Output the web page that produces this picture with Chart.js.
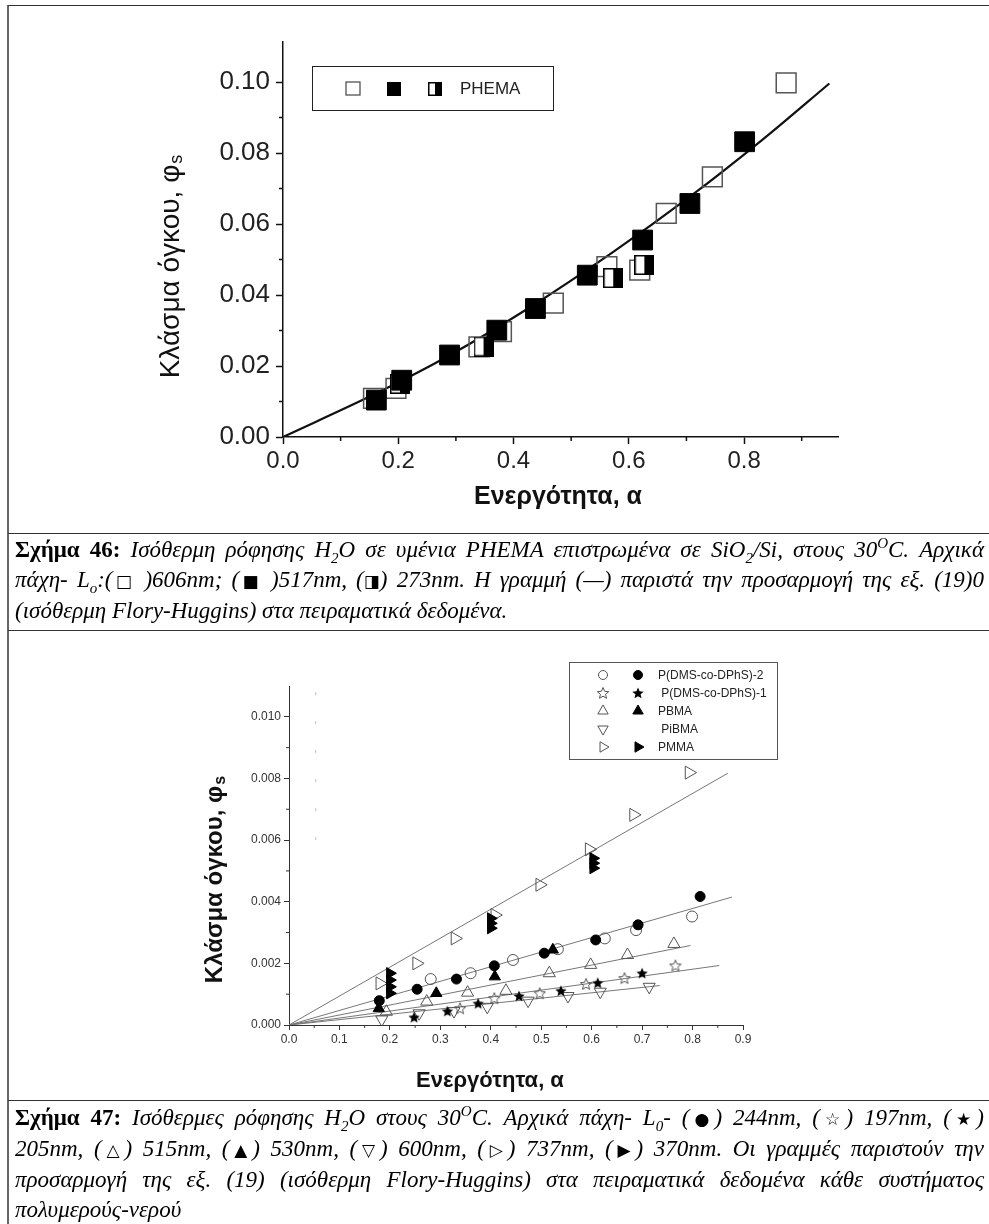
<!DOCTYPE html>
<html>
<head>
<meta charset="utf-8">
<script src="https://cdn.jsdelivr.net/npm/chart.js@4.4.1/dist/chart.umd.min.js"></script>
<style>
  body { margin: 0; background: #fff; width: 989px; height: 1224px; position: relative; overflow: hidden; }
  canvas { position: absolute; left: 0; }
  #c1 { top: 0; }
  #c2 { top: 635px; }
  .hl { position: absolute; left: 8px; right: 0; height: 0; border-top: 1px solid #333; }
  .vl { position: absolute; left: 7px; top: 5px; bottom: 0; width: 0; border-left: 2px solid #666; }
  .cap { position: absolute; left: 15px; width: 969px; font-family: 'Liberation Serif', 'Times New Roman', serif;
         font-size: 23px; line-height: 30px; font-style: italic; color: #000; }
  .cap .ln { display: block; white-space: nowrap; text-align: justify; text-align-last: justify; }
  .cap .last { text-align: left; text-align-last: left; }
  .cap b { font-style: normal; }
  .cap sub, .cap sup { font-size: 15px; line-height: 0; }
  .sym { font-style: normal; font-family: 'DejaVu Sans', sans-serif; font-size: 17px; }
</style>
</head>
<body>
<canvas id="c1" width="989" height="530"></canvas>
<canvas id="c2" width="989" height="460"></canvas>

<div class="vl"></div>
<div class="hl" style="top:5px"></div>
<div class="hl" style="top:533px"></div>
<div class="hl" style="top:630px"></div>
<div class="hl" style="top:1100px"></div>

<div class="cap" style="top:535px">
  <span class="ln"><b>Σχήμα 46:</b> Ισόθερμη ρόφησης H<sub>2</sub>O σε υμένια PHEMA επιστρωμένα σε SiO<sub>2</sub>/Si, στους 30<sup>O</sup>C. Αρχικά</span>
  <span class="ln">πάχη- L<sub>o</sub>:(<span class="sym">□</span> )606nm; (<span class="sym">■</span> )517nm, (<span class="sym">◨</span>) 273nm. Η γραμμή (—) παριστά την προσαρμογή της εξ. (19)0</span>
  <span class="ln last">(ισόθερμη Flory-Huggins) στα πειραματικά δεδομένα.</span>
</div>

<div class="cap" style="top:1103px">
  <span class="ln"><b>Σχήμα 47:</b> Ισόθερμες ρόφησης H<sub>2</sub>O στους 30<sup>O</sup>C. Αρχικά πάχη- L<sub>0</sub>- (<span class="sym">●</span>) 244nm, (<span class="sym">☆</span>) 197nm, (<span class="sym">★</span>)</span>
  <span class="ln">205nm, (<span class="sym">△</span>) 515nm, (<span class="sym">▲</span>) 530nm, (<span class="sym">▽</span>) 600nm, (<span class="sym">▷</span>) 737nm, (<span class="sym">▶</span>) 370nm. Οι γραμμές παριστούν την</span>
  <span class="ln">προσαρμογή της εξ. (19) (ισόθερμη Flory-Huggins) στα πειραματικά δεδομένα κάθε συστήματος</span>
  <span class="ln last">πολυμερούς-νερού</span>
</div>

<script>
// ---------- Σχήμα 46 : PHEMA ----------
const phemaOpenX = [0.157, 0.196, 0.340, 0.379, 0.469, 0.562, 0.619, 0.665, 0.745, 0.873];
const phemaOpenY = [0.0109, 0.0137, 0.0254, 0.0297, 0.0377, 0.0480, 0.0470, 0.0630, 0.0733, 0.0998];
const phemaFullX = [0.162, 0.206, 0.289, 0.371, 0.438, 0.528, 0.624, 0.706, 0.801];
const phemaFullY = [0.0104, 0.0160, 0.0231, 0.0301, 0.0362, 0.0456, 0.0555, 0.0658, 0.0832];
const phemaHalfX = [0.203, 0.348, 0.573, 0.627];
const phemaHalfY = [0.0150, 0.0255, 0.0448, 0.0485];
const phemaFitX = [0, 0.162, 0.29, 0.43, 0.57, 0.706, 0.83, 0.948];
const phemaFitY = [0, 0.0123, 0.0231, 0.0367, 0.0518, 0.0677, 0.0835, 0.0996];
const topXTicks = [0, 0.2, 0.4, 0.6, 0.8];
const topXMinor = [0.1, 0.3, 0.5, 0.7, 0.9];
const topYTicks = [0, 0.02, 0.04, 0.06, 0.08, 0.10];
const topYMinor = [0.01, 0.03, 0.05, 0.07, 0.09];

// ---------- Σχήμα 47 ----------
const dms2FullX = [0.179, 0.254, 0.332, 0.407, 0.506, 0.608, 0.692, 0.815];
const dms2FullY = [0.00079, 0.00116, 0.00149, 0.00192, 0.00233, 0.00276, 0.00325, 0.00417];
const dms2OpenX = [0.281, 0.360, 0.444, 0.533, 0.626, 0.688, 0.799];
const dms2OpenY = [0.00149, 0.00168, 0.00211, 0.00246, 0.00281, 0.00308, 0.00352];
const dms1OpenX = [0.339, 0.407, 0.497, 0.589, 0.665, 0.766];
const dms1OpenY = [0.00054, 0.00087, 0.00103, 0.00133, 0.00152, 0.00193];
const dms1FullX = [0.248, 0.314, 0.375, 0.456, 0.539, 0.612, 0.700];
const dms1FullY = [0.00025, 0.00045, 0.00070, 0.00094, 0.00111, 0.00137, 0.00168];
const pbmaOpenX = [0.193, 0.273, 0.354, 0.430, 0.516, 0.598, 0.671, 0.763];
const pbmaOpenY = [0.00043, 0.00076, 0.00105, 0.00111, 0.00168, 0.00195, 0.00227, 0.00263];
const pbmaFullX = [0.178, 0.292, 0.408, 0.523];
const pbmaFullY = [0.00054, 0.00103, 0.00157, 0.00244];
const pibmaOpenX = [0.184, 0.258, 0.327, 0.393, 0.474, 0.553, 0.617, 0.714];
const pibmaOpenY = [0.00018, 0.00038, 0.00045, 0.00059, 0.00079, 0.00094, 0.00108, 0.00124];
const pmmaOpenX = [0.180, 0.253, 0.329, 0.408, 0.497, 0.595, 0.683, 0.793];
const pmmaOpenY = [0.00135, 0.00200, 0.00281, 0.00357, 0.00455, 0.00570, 0.00682, 0.00819];
const pmmaFullX = [0.200, 0.200, 0.200, 0.200, 0.400, 0.400, 0.400, 0.603, 0.603, 0.603];
const pmmaFullY = [0.00168, 0.00146, 0.00124, 0.00103, 0.00346, 0.00330, 0.00314, 0.00541, 0.00525, 0.00509];
// fitted lines (end points)
const pmmaFitX = [0, 0.870];   const pmmaFitY = [0, 0.00817];
const dms2FitX = [0, 0.878];   const dms2FitY = [0, 0.00415];
const pbmaFitX = [0, 0.796];   const pbmaFitY = [0, 0.00258];
const dms1FitX = [0, 0.853];   const dms1FitY = [0, 0.00193];
const pibmaFitX = [0, 0.735];  const pibmaFitY = [0, 0.00128];
// faint dashed marks left in the scan
const scanMarkX = [0.053, 0.053];
const scanMarkY = [0.0108, 0.0060];
const botXTicks = [0, 0.1, 0.2, 0.3, 0.4, 0.5, 0.6, 0.7, 0.8, 0.9];
const botXMinor = [0.05, 0.15, 0.25, 0.35, 0.45, 0.55, 0.65, 0.75, 0.85];
const botYTicks = [0, 0.002, 0.004, 0.006, 0.008, 0.010];
const botYMinor = [0.001, 0.003, 0.005, 0.007, 0.009];

const legend47 = [
  { label: 'P(DMS-co-DPhS)-2', open: 'circle', full: 'circle' },
  { label: ' P(DMS-co-DPhS)-1', open: 'starO', full: 'starF' },
  { label: 'PBMA', open: 'triangle', full: 'triangle' },
  { label: ' PiBMA', open: 'down', full: null },
  { label: 'PMMA', open: 'right', full: 'right' }
];

const SANS = "'Liberation Sans', Arial, sans-serif";

function pts(xs, ys) { return xs.map((x, i) => ({ x: x, y: ys[i] })); }

// ---------- marker images ----------
function makeHalfSquare(size) {
  const c = document.createElement('canvas');
  c.width = size; c.height = size;
  const g = c.getContext('2d');
  g.fillStyle = '#fff'; g.fillRect(0, 0, size / 2, size);
  g.fillStyle = '#000'; g.fillRect(size / 2, 0, size / 2, size);
  g.strokeStyle = '#000'; g.lineWidth = 1.5;
  g.strokeRect(0.75, 0.75, size - 1.5, size - 1.5);
  return c;
}

function makeStar(size, filled) {
  const c = document.createElement('canvas');
  c.width = size; c.height = size;
  const g = c.getContext('2d');
  const R = size / 2 - 1, r = R * 0.45, cx = size / 2, cy = size / 2 + 0.5;
  g.beginPath();
  for (let i = 0; i < 10; i++) {
    const rad = (i % 2 === 0) ? R : r;
    const a = -Math.PI / 2 + i * Math.PI / 5;
    const px = cx + rad * Math.cos(a), py = cy + rad * Math.sin(a);
    if (i === 0) g.moveTo(px, py); else g.lineTo(px, py);
  }
  g.closePath();
  if (filled) { g.fillStyle = '#000'; g.fill(); }
  else { g.strokeStyle = '#555'; g.lineWidth = 1; g.stroke(); }
  return c;
}

const halfBig = makeHalfSquare(20);
const halfSmall = makeHalfSquare(14);
const starOpen = makeStar(14, false);
const starFull = makeStar(14, true);

// ---------- shared helpers ----------
function fixedTicks(list) {
  return function (scale) { scale.ticks = list.map(v => ({ value: v })); };
}

function drawMinor(chart, xs, ys, len, color, width) {
  const ctx = chart.ctx, sx = chart.scales.x, sy = chart.scales.y;
  ctx.save();
  ctx.strokeStyle = color; ctx.lineWidth = width;
  ctx.beginPath();
  xs.forEach(v => {
    const p = sx.getPixelForValue(v);
    ctx.moveTo(p, sy.bottom); ctx.lineTo(p, sy.bottom + len);
  });
  ys.forEach(v => {
    const p = sy.getPixelForValue(v);
    ctx.moveTo(sx.left, p); ctx.lineTo(sx.left - len, p);
  });
  ctx.stroke();
  ctx.restore();
}

function drawYTitle(ctx, cx, cy, font, subFont) {
  ctx.save();
  ctx.translate(cx, cy);
  ctx.rotate(-Math.PI / 2);
  ctx.fillStyle = '#111';
  ctx.textBaseline = 'middle';
  ctx.font = font;
  const main = 'Κλάσμα όγκου, φ';
  const w1 = ctx.measureText(main).width;
  ctx.font = subFont;
  const w2 = ctx.measureText('s').width;
  const x0 = -(w1 + w2) / 2;
  ctx.font = font;
  ctx.textAlign = 'left';
  ctx.fillText(main, x0, 0);
  ctx.font = subFont;
  ctx.fillText('s', x0 + w1 + 1, 6);
  ctx.restore();
}

function drawXTitle(ctx, cx, cy, font) {
  ctx.save();
  ctx.fillStyle = '#111';
  ctx.font = font;
  ctx.textAlign = 'center';
  ctx.textBaseline = 'middle';
  ctx.fillText('Ενεργότητα, α', cx, cy);
  ctx.restore();
}

function marker(ctx, kind, filled, x, y) {
  ctx.save();
  ctx.fillStyle = filled ? '#000' : 'rgba(0,0,0,0)';
  ctx.strokeStyle = filled ? '#000' : '#555';
  ctx.lineWidth = 1;
  const opt = { radius: 5, borderWidth: 1, rotation: 0, pointStyle: kind };
  if (kind === 'down') { opt.pointStyle = 'triangle'; opt.rotation = 180; opt.radius = 6; }
  if (kind === 'right') { opt.pointStyle = 'triangle'; opt.rotation = 90; opt.radius = 6; }
  if (kind === 'triangle') opt.radius = 6;
  if (kind === 'circle') opt.radius = 4.5;
  if (kind === 'starO') opt.pointStyle = starOpen;
  if (kind === 'starF') opt.pointStyle = starFull;
  Chart.helpers.drawPoint(ctx, opt, x, y);
  ctx.restore();
}

// ---------- chart 1 ----------
const deco1 = {
  id: 'deco1',
  afterDraw(chart) {
    const ctx = chart.ctx;
    drawMinor(chart, topXMinor, topYMinor, 4, '#111', 1.5);
    drawYTitle(ctx, 171, 267, '28px ' + SANS, '18px ' + SANS);
    drawXTitle(ctx, 558, 497, 'bold 25px ' + SANS);
    // legend box
    ctx.save();
    ctx.strokeStyle = '#222'; ctx.lineWidth = 1;
    ctx.strokeRect(312.5, 66.5, 241, 44);
    ctx.lineWidth = 1.2; ctx.strokeStyle = '#444';
    ctx.strokeRect(346, 82, 14, 13);
    ctx.fillStyle = '#000';
    ctx.fillRect(387, 82, 14, 14);
    ctx.drawImage(halfSmall, 428, 82);
    ctx.font = '17px ' + SANS;
    ctx.textBaseline = 'middle';
    ctx.fillStyle = '#222';
    ctx.fillText('PHEMA', 460, 89);
    ctx.restore();
  }
};

new Chart(document.getElementById('c1'), {
  type: 'scatter',
  data: {
    datasets: [
      { label: 'Lo 517nm', data: pts(phemaFullX, phemaFullY), pointStyle: 'rect', pointRadius: 14,
        backgroundColor: '#000', borderColor: '#000', borderWidth: 1, order: 0 },
      { label: 'Lo 273nm', data: pts(phemaHalfX, phemaHalfY), pointStyle: halfBig, pointRadius: 10, order: 1 },
      { label: 'Lo 606nm', data: pts(phemaOpenX, phemaOpenY), pointStyle: 'rect', pointRadius: 14,
        backgroundColor: 'rgba(0,0,0,0)', borderColor: '#555', borderWidth: 1.5, order: 2 },
      { label: 'Flory-Huggins', data: pts(phemaFitX, phemaFitY), showLine: true, pointRadius: 0,
        borderColor: '#111', borderWidth: 2.2, tension: 0.35, order: 3 }
    ]
  },
  options: {
    responsive: false,
    animation: false,
    events: [],
    layout: { padding: { left: 0, top: 42, right: 151, bottom: 0 } },
    plugins: { legend: { display: false }, tooltip: { enabled: false } },
    scales: {
      x: {
        type: 'linear', min: 0, max: 0.963,
        afterBuildTicks: fixedTicks(topXTicks),
        afterFit: s => { s.height = 93; },
        border: { display: true, color: '#111', width: 1.5 },
        grid: { drawOnChartArea: false, drawTicks: true, tickLength: 7, tickColor: '#111', tickWidth: 1.5 },
        ticks: { color: '#222', font: { family: SANS, size: 24 }, padding: 3, maxRotation: 0,
                 callback: v => v.toFixed(1) }
      },
      y: {
        type: 'linear', min: 0, max: 0.1113,
        afterBuildTicks: fixedTicks(topYTicks),
        afterFit: s => { s.width = 283; },
        border: { display: true, color: '#111', width: 1.5 },
        grid: { drawOnChartArea: false, drawTicks: true, tickLength: 7, tickColor: '#111', tickWidth: 1.5 },
        ticks: { color: '#222', font: { family: SANS, size: 26 }, padding: 6,
                 callback: v => v.toFixed(2) }
      }
    }
  },
  plugins: [deco1]
});

// ---------- chart 2 ----------
const deco2 = {
  id: 'deco2',
  afterDraw(chart) {
    const ctx = chart.ctx;
    drawMinor(chart, botXMinor, botYMinor, 3, '#333', 1);
    drawYTitle(ctx, 215, 245, 'bold 24px ' + SANS, 'bold 16px ' + SANS);
    drawXTitle(ctx, 490, 446, 'bold 22px ' + SANS);
    // legend
    ctx.save();
    ctx.fillStyle = '#fff';
    ctx.fillRect(569, 27, 208, 97);
    ctx.strokeStyle = '#555'; ctx.lineWidth = 1;
    ctx.strokeRect(569.5, 27.5, 208, 97);
    ctx.restore();
    legend47.forEach((row, i) => {
      const y = 40 + i * 18;
      marker(ctx, row.open, false, 603, y);
      if (row.full) marker(ctx, row.full, true, 638, y);
      ctx.save();
      ctx.font = '12px ' + SANS;
      ctx.fillStyle = '#222';
      ctx.textBaseline = 'middle';
      ctx.fillText(row.label, 658, y + 1);
      ctx.restore();
    });
  }
};

const openCol = '#555';
function fitLine(label, xs, ys) {
  return { label: label, data: pts(xs, ys), showLine: true, pointRadius: 0,
           borderColor: '#777', borderWidth: 1, order: 10 };
}

new Chart(document.getElementById('c2'), {
  type: 'scatter',
  data: {
    datasets: [
      { label: 'PMMA 370nm', data: pts(pmmaFullX, pmmaFullY), pointStyle: 'triangle', rotation: 90,
        pointRadius: 6.5, backgroundColor: '#000', borderColor: '#000', borderWidth: 1, order: 1 },
      { label: 'PMMA 737nm', data: pts(pmmaOpenX, pmmaOpenY), pointStyle: 'triangle', rotation: 90,
        pointRadius: 7.5, backgroundColor: 'rgba(0,0,0,0)', borderColor: openCol, borderWidth: 1, order: 2 },
      { label: 'DMS-2 244nm', data: pts(dms2FullX, dms2FullY), pointStyle: 'circle',
        pointRadius: 5, backgroundColor: '#000', borderColor: '#000', borderWidth: 1, order: 1 },
      { label: 'DMS-2 open', data: pts(dms2OpenX, dms2OpenY), pointStyle: 'circle',
        pointRadius: 5.5, backgroundColor: 'rgba(0,0,0,0)', borderColor: openCol, borderWidth: 1, order: 2 },
      { label: 'PBMA 530nm', data: pts(pbmaFullX, pbmaFullY), pointStyle: 'triangle',
        pointRadius: 6.5, backgroundColor: '#000', borderColor: '#000', borderWidth: 1, order: 1 },
      { label: 'PBMA 515nm', data: pts(pbmaOpenX, pbmaOpenY), pointStyle: 'triangle',
        pointRadius: 7, backgroundColor: 'rgba(0,0,0,0)', borderColor: openCol, borderWidth: 1, order: 2 },
      { label: 'DMS-1 205nm', data: pts(dms1FullX, dms1FullY), pointStyle: starFull, order: 1 },
      { label: 'DMS-1 197nm', data: pts(dms1OpenX, dms1OpenY), pointStyle: starOpen, order: 2 },
      { label: 'PiBMA 600nm', data: pts(pibmaOpenX, pibmaOpenY), pointStyle: 'triangle', rotation: 180,
        pointRadius: 7, backgroundColor: 'rgba(0,0,0,0)', borderColor: openCol, borderWidth: 1, order: 2 },
      fitLine('PMMA fit', pmmaFitX, pmmaFitY),
      fitLine('DMS-2 fit', dms2FitX, dms2FitY),
      fitLine('PBMA fit', pbmaFitX, pbmaFitY),
      fitLine('DMS-1 fit', dms1FitX, dms1FitY),
      fitLine('PiBMA fit', pibmaFitX, pibmaFitY),
      { label: 'scan', data: pts(scanMarkX, scanMarkY), showLine: true, pointRadius: 0,
        borderColor: 'rgba(214,160,120,0.8)', borderWidth: 1, borderDash: [3, 26], order: 11 }
    ]
  },
  options: {
    responsive: false,
    animation: false,
    events: [],
    layout: { padding: { left: 0, top: 51, right: 246, bottom: 0 } },
    plugins: { legend: { display: false }, tooltip: { enabled: false } },
    scales: {
      x: {
        type: 'linear', min: 0, max: 0.9,
        afterBuildTicks: fixedTicks(botXTicks),
        afterFit: s => { s.height = 70; },
        border: { display: true, color: '#333', width: 1 },
        grid: { drawOnChartArea: false, drawTicks: true, tickLength: 5, tickColor: '#333', tickWidth: 1 },
        ticks: { color: '#333', font: { family: SANS, size: 12 }, padding: 2, maxRotation: 0,
                 callback: v => v.toFixed(1) }
      },
      y: {
        type: 'linear', min: 0, max: 0.0110,
        afterBuildTicks: fixedTicks(botYTicks),
        afterFit: s => { s.width = 289; },
        border: { display: true, color: '#333', width: 1 },
        grid: { drawOnChartArea: false, drawTicks: true, tickLength: 5, tickColor: '#333', tickWidth: 1 },
        ticks: { color: '#333', font: { family: SANS, size: 12 }, padding: 3,
                 callback: v => v.toFixed(3) }
      }
    }
  },
  plugins: [deco2]
});
</script>
</body>
</html>
